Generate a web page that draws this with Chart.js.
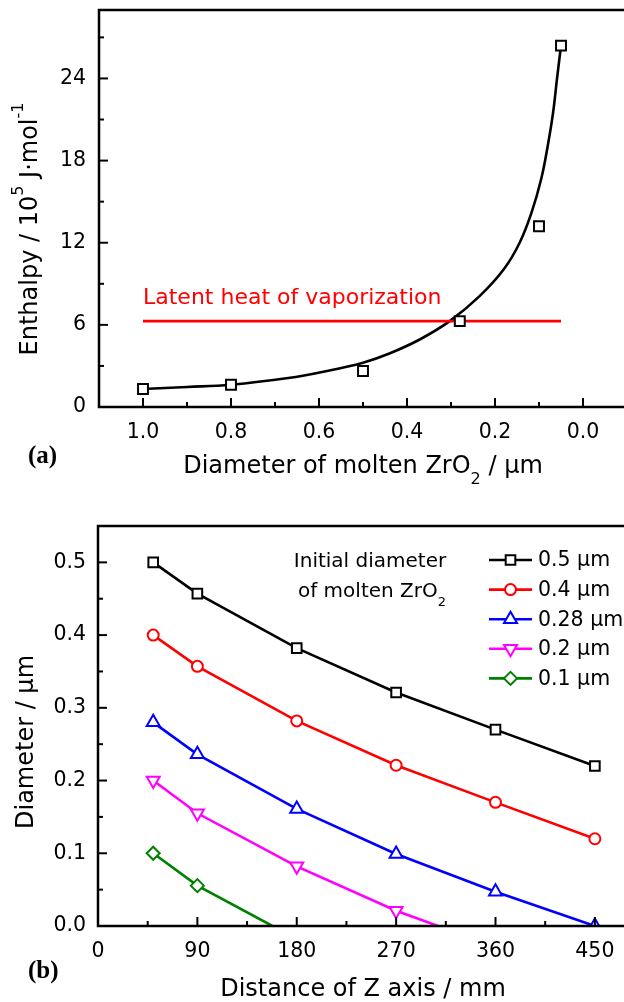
<!DOCTYPE html>
<html>
<head>
<meta charset="utf-8">
<script src="https://cdn.jsdelivr.net/npm/chart.js@4.4.1/dist/chart.umd.min.js"></script>
<style>
    html, body { margin: 0; padding: 0; background: #fff; overflow: hidden; }
    #wrapA { position: absolute; left: 0; top: 0; }
    #wrapB { position: absolute; left: 0; top: 490px; }
</style>
</head>
<body>
<div id="wrapA"><canvas id="chartA" width="640" height="490"></canvas></div>
<div id="wrapB"><canvas id="chartB" width="640" height="512"></canvas></div>
<script>
// ---- (a) enthalpy vs. diameter ----
const diaPoints = [1.0, 0.8, 0.5, 0.28, 0.1, 0.05];
const enthalpyPoints = [1.32, 1.63, 2.63, 6.27, 13.2, 26.4];
// fitted curve
const curveDia = [1.0, 0.9, 0.8, 0.67, 0.59, 0.5, 0.44, 0.37, 0.303, 0.235, 0.18, 0.144, 0.117, 0.095, 0.08, 0.068, 0.059, 0.05];
const curveEnthalpy = [1.32, 1.46, 1.63, 2.12, 2.58, 3.24, 3.91, 4.95, 6.27, 8.1, 10.06, 12.0, 14.2, 16.65, 19.1, 21.5, 24.0, 26.4];
const latentHeat = 6.27;
const latentRange = [1.0, 0.05];

// ---- (b) diameter vs. distance ----
const distZ = [50, 90, 180, 270, 360, 450];
const dia05 = [0.5, 0.457, 0.382, 0.321, 0.27, 0.22];
const dia04 = [0.4, 0.357, 0.282, 0.221, 0.17, 0.12];
const dia028 = [0.28, 0.236, 0.161, 0.099, 0.047, 0];
const dia02 = [0.2, 0.155, 0.082, 0.021];
const dia01 = [0.1, 0.0555];
// distance where the two small droplets reach zero
const end02 = 308;
const end01 = 158;
const seriesLabels = ['0.5 µm', '0.4 µm', '0.28 µm', '0.2 µm', '0.1 µm'];

const FONT = '"DejaVu Sans", sans-serif';
const TICK = 20.5;
Chart.defaults.font.family = FONT;
Chart.defaults.color = '#000';

const toXY = (xs, ys) => ys.map((y, i) => ({x: xs[i], y: y}));

function richText(ctx, parts, x, y, size, align) {
    const small = Math.round(size * 0.67);
    let total = 0;
    parts.forEach(([t, k]) => {
        ctx.font = (k ? small : size) + 'px ' + FONT;
        total += ctx.measureText(t).width;
    });
    let cx = align === 'center' ? x - total / 2 : x;
    ctx.textAlign = 'left';
    ctx.textBaseline = 'alphabetic';
    parts.forEach(([t, k]) => {
        ctx.font = (k ? small : size) + 'px ' + FONT;
        let dy = 0;
        if (k === 'sup') dy = -size * 0.57;
        if (k === 'sub') dy = size * 0.45;
        ctx.fillText(t, cx, y + dy);
        cx += ctx.measureText(t).width;
    });
}

// frame + inward tick marks
function drawFrame(chart) {
    const ctx = chart.ctx;
    const a = chart.chartArea;
    ctx.save();
    ctx.strokeStyle = '#000';
    ctx.lineWidth = 2.5;
    ctx.strokeRect(a.left, a.top, a.right - a.left, a.bottom - a.top);
    ctx.lineWidth = 2;
    const xs = chart.scales.x, ys = chart.scales.y;
    xs.ticks.forEach(t => {
        if (t.value <= xs.min || t.value >= xs.max) return;
        const px = xs.getPixelForValue(t.value);
        const len = t.label !== '' ? 9 : 5;
        ctx.beginPath();
        ctx.moveTo(px, a.bottom);
        ctx.lineTo(px, a.bottom - len);
        ctx.stroke();
    });
    ys.ticks.forEach(t => {
        if (t.value <= ys.min || t.value >= ys.max) return;
        const py = ys.getPixelForValue(t.value);
        const len = t.label !== '' ? 9 : 5;
        ctx.beginPath();
        ctx.moveTo(a.left, py);
        ctx.lineTo(a.left + len, py);
        ctx.stroke();
    });
    ctx.restore();
}

function panelLabel(ctx, text, x, y) {
    ctx.save();
    ctx.fillStyle = '#000';
    ctx.font = 'bold 25px "Liberation Serif", "DejaVu Serif", serif';
    ctx.textAlign = 'left';
    ctx.textBaseline = 'alphabetic';
    ctx.fillText(text, x, y);
    ctx.restore();
}

function fixScale(size, key) {
    return s => {
        s[key] = size;
        s.paddingTop = 0; s.paddingBottom = 0; s.paddingLeft = 0; s.paddingRight = 0;
    };
}

const decorA = {
    id: 'decorA',
    afterDraw(chart) {
        const ctx = chart.ctx;
        drawFrame(chart);
        ctx.save();
        ctx.fillStyle = '#000';
        richText(ctx, [['Diameter of molten ZrO', ''], ['2', 'sub'], [' / µm', '']], 363, 473, 24, 'center');
        ctx.save();
        ctx.translate(37, 229);
        ctx.rotate(-Math.PI / 2);
        richText(ctx, [['Enthalpy / 10', ''], ['5', 'sup'], [' J·mol', ''], ['-1', 'sup']], 0, 0, 24, 'center');
        ctx.restore();
        ctx.fillStyle = '#ff0000';
        ctx.font = '22px ' + FONT;
        ctx.textAlign = 'left';
        ctx.textBaseline = 'alphabetic';
        ctx.fillText('Latent heat of vaporization', 143, 304);
        ctx.restore();
        panelLabel(ctx, '(a)', 28, 463);
    }
};

new Chart(document.getElementById('chartA'), {
    type: 'line',
    data: {
        datasets: [
            {
                data: toXY(diaPoints, enthalpyPoints),
                showLine: false,
                pointStyle: 'rect',
                pointRadius: 7,
                pointBorderWidth: 2,
                pointBorderColor: '#000',
                pointBackgroundColor: '#fff'
            },
            {
                data: latentRange.map(x => ({x: x, y: latentHeat})),
                borderColor: '#ff0000',
                borderWidth: 2.8,
                pointRadius: 0
            },
            {
                data: toXY(curveDia, curveEnthalpy),
                borderColor: '#000',
                borderWidth: 2.6,
                pointRadius: 0,
                tension: 0.4
            }
        ]
    },
    options: {
        responsive: false,
        animation: false,
        layout: {padding: {top: 10, right: 13, left: 0, bottom: 0}},
        plugins: {legend: {display: false}, tooltip: {enabled: false}},
        scales: {
            x: {
                type: 'linear', reverse: true, min: -0.1, max: 1.1,
                afterFit: fixScale(83, 'height'),
                grid: {display: false, drawTicks: false},
                border: {display: false},
                ticks: {
                    stepSize: 0.1, autoSkip: false, maxRotation: 0, padding: 13,
                    font: {size: TICK}, color: '#000',
                    callback: v => {
                        const k = Math.round(v * 10);
                        return (k >= 0 && k <= 10 && k % 2 === 0) ? (k / 10).toFixed(1) : '';
                    }
                }
            },
            y: {
                type: 'linear', min: 0, max: 29,
                afterFit: fixScale(99, 'width'),
                grid: {display: false, drawTicks: false},
                border: {display: false},
                ticks: {
                    stepSize: 3, includeBounds: false, autoSkip: false, padding: 13,
                    font: {size: TICK}, color: '#000',
                    callback: v => (v % 6 === 0 ? String(v) : '')
                }
            }
        }
    },
    plugins: [decorA]
});

// ---- chart (b) ----
const colors = ['#000000', '#ff0000', '#0000ff', '#ff00ff', '#008000'];
const styles = [
    {pointStyle: 'rect', radius: 6.8, rotation: 0},
    {pointStyle: 'circle', radius: 5.5, rotation: 0},
    {pointStyle: 'triangle', radius: 7.5, rotation: 0},
    {pointStyle: 'triangle', radius: 7.5, rotation: 180},
    {pointStyle: 'rectRot', radius: 6.5, rotation: 0}
];
const seriesData = [
    toXY(distZ, dia05),
    toXY(distZ, dia04),
    toXY(distZ, dia028),
    toXY(distZ, dia02).concat([{x: end02, y: 0}]),
    toXY(distZ, dia01).concat([{x: end01, y: 0}])
];
const markerCount = [dia05.length, dia04.length, dia028.length, dia02.length, dia01.length];

function drawMarker(ctx, style, x, y) {
    const r = style.radius;
    ctx.beginPath();
    if (style.pointStyle === 'rect') {
        const s = Math.SQRT1_2 * r;
        ctx.rect(x - s, y - s, 2 * s, 2 * s);
    } else if (style.pointStyle === 'circle') {
        ctx.arc(x, y, r, 0, Math.PI * 2);
    } else if (style.pointStyle === 'triangle') {
        const d = style.rotation ? -1 : 1;
        ctx.moveTo(x, y - d * r);
        ctx.lineTo(x + 0.866 * r, y + d * 0.5 * r);
        ctx.lineTo(x - 0.866 * r, y + d * 0.5 * r);
        ctx.closePath();
    } else {
        ctx.moveTo(x - r, y);
        ctx.lineTo(x, y - r);
        ctx.lineTo(x + r, y);
        ctx.lineTo(x, y + r);
        ctx.closePath();
    }
    ctx.fill();
    ctx.stroke();
}

const decorB = {
    id: 'decorB',
    afterDraw(chart) {
        const ctx = chart.ctx;
        drawFrame(chart);
        ctx.save();
        ctx.fillStyle = '#000';
        richText(ctx, [['Distance of Z axis / mm', '']], 363, 506, 24, 'center');
        ctx.save();
        ctx.translate(33, 252);
        ctx.rotate(-Math.PI / 2);
        richText(ctx, [['Diameter / µm', '']], 0, 0, 24, 'center');
        ctx.restore();
        richText(ctx, [['Initial diameter', '']], 370, 77, 20, 'center');
        richText(ctx, [['of molten ZrO', ''], ['2', 'sub']], 372, 107, 20, 'center');

        // legend
        seriesLabels.forEach((label, i) => {
            const y = 70 + i * 29.6;
            ctx.strokeStyle = colors[i];
            ctx.lineWidth = 2.6;
            ctx.beginPath();
            ctx.moveTo(489, y);
            ctx.lineTo(532, y);
            ctx.stroke();
            ctx.fillStyle = '#fff';
            ctx.lineWidth = 2;
            drawMarker(ctx, styles[i], 510.5, y);
            ctx.fillStyle = '#000';
            ctx.font = TICK + 'px ' + FONT;
            ctx.textAlign = 'left';
            ctx.textBaseline = 'middle';
            ctx.fillText(label, 538, y + 1);
        });
        ctx.restore();
        panelLabel(ctx, '(b)', 28, 488);
    }
};

new Chart(document.getElementById('chartB'), {
    type: 'line',
    data: {
        datasets: seriesData.map((d, i) => ({
            label: seriesLabels[i],
            data: d,
            borderColor: colors[i],
            borderWidth: 2.6,
            pointStyle: styles[i].pointStyle,
            pointRotation: styles[i].rotation,
            pointRadius: c => (c.dataIndex < markerCount[i] ? styles[i].radius : 0),
            pointBorderWidth: 2,
            pointBorderColor: colors[i],
            pointBackgroundColor: '#fff'
        }))
    },
    options: {
        responsive: false,
        animation: false,
        layout: {padding: {top: 36, right: 12, left: 0, bottom: 0}},
        plugins: {legend: {display: false}, tooltip: {enabled: false}},
        scales: {
            x: {
                type: 'linear', min: 0, max: 480,
                afterFit: fixScale(76, 'height'),
                grid: {display: false, drawTicks: false},
                border: {display: false},
                ticks: {
                    stepSize: 45, includeBounds: false, autoSkip: false, maxRotation: 0, padding: 13,
                    font: {size: TICK}, color: '#000',
                    callback: v => (v % 90 === 0 ? String(v) : '')
                }
            },
            y: {
                type: 'linear', min: 0, max: 0.55,
                afterFit: fixScale(98, 'width'),
                grid: {display: false, drawTicks: false},
                border: {display: false},
                ticks: {
                    stepSize: 0.05, includeBounds: false, autoSkip: false, padding: 12,
                    font: {size: TICK}, color: '#000',
                    callback: v => {
                        const k = Math.round(v * 100);
                        return (k % 10 === 0 && k <= 50) ? (k / 100).toFixed(1) : '';
                    }
                }
            }
        }
    },
    plugins: [decorB]
});
</script>
</body>
</html>
